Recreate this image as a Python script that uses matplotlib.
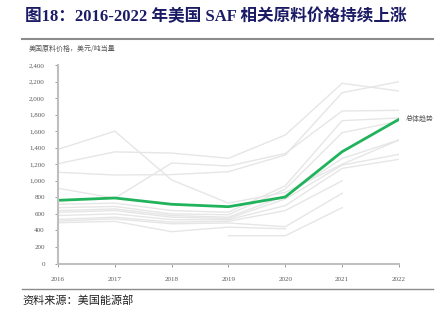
import numpy as np
import matplotlib.pyplot as plt
from matplotlib.ticker import FuncFormatter

plt.rcParams['font.family'] = ['Liberation Serif', 'Noto Sans CJK SC', 'DejaVu Sans']

years = [2016, 2017, 2018, 2019, 2020, 2021, 2022]

# 总体趋势
trend = [764, 792, 716, 687, 804, 1352, 1743]

# 各类原料价格 (美元/吨当量), nan 表示无数据
nan = np.nan
feedstocks = [
    [1380, 1600, 1010, 730, 860, 1200, 1493],
    [1207, 1350, 1335, 1272, 1554, 2179, 2086],
    [1103, 1070, 1075, 1110, 1312, 2065, 2198],
    [909, 790, 1215, 1179, 1330, 1844, 1852],
    [716, 730, 640, 620, 940, 1727, 1760],
    [675, 690, 600, 590, 900, 1582, 1720],
    [640, 660, 580, 560, 820, 1270, 1493],
    [619, 640, 560, 545, 780, 1190, 1320],
    [580, 600, 530, 530, 700, 1150, 1260],
    [534, 560, 500, 510, 640, 1000, nan],
    [514, 540, 480, 490, 445, 849, nan],
    [493, 510, 385, 440, 420, nan, nan],
    [nan, nan, nan, 336, 336, 675, nan],
]

fig = plt.figure(figsize=(4.48, 3.31), dpi=100)

fig.text(0.055, 0.948, '图18：2016-2022 年美国 SAF 相关原料价格持续上涨',
         fontsize=12, fontweight='bold', color='#1B1B66', va='center')
fig.add_artist(plt.Line2D([0.05, 0.967], [0.882, 0.882], color='#8C8C8C', lw=1.5))
fig.add_artist(plt.Line2D([0.05, 0.967], [0.127, 0.127], color='#8C8C8C', lw=1.0))
fig.text(0.05, 0.093, '资料来源：美国能源部', fontsize=8,
         family=['Noto Sans CJK SC', 'DejaVu Sans'], color='#222222', va='center')

ax = fig.add_axes([0.1295, 0.2039, 0.761, 0.5997])

for s in feedstocks:
    ax.plot(years, s, color='#E6E6E6', lw=1.0)
ax.plot(years, trend, color='#20B35C', lw=2.0)
ax.text(2022.12, trend[-1], '总体趋势', fontsize=5,
        family=['Noto Sans CJK SC'], color='#595959', va='center')

ax.text(-0.085, 1.06, '美国原料价格，美元/吨当量', transform=ax.transAxes,
        fontsize=5, family=['Noto Sans CJK SC'], color='#595959', va='bottom')

ax.set_xlim(2016, 2022)
ax.set_ylim(0, 2400)
ax.set_xticks(years)
ax.set_yticks(range(0, 2401, 200))
ax.yaxis.set_major_formatter(FuncFormatter(lambda v, p: f'{int(v):,}'))

for side in ['top', 'right']:
    ax.spines[side].set_visible(False)
for side in ['left', 'bottom']:
    ax.spines[side].set_color('#BFBFBF')
    ax.spines[side].set_linewidth(1.5)
ax.tick_params(axis='both', colors='#8C8C8C', labelcolor='#595959',
               labelsize=5, length=2.5, width=0.6)
ax.tick_params(axis='y', pad=7)
ax.tick_params(axis='x', pad=7)

fig.savefig('out.png', dpi=100)
